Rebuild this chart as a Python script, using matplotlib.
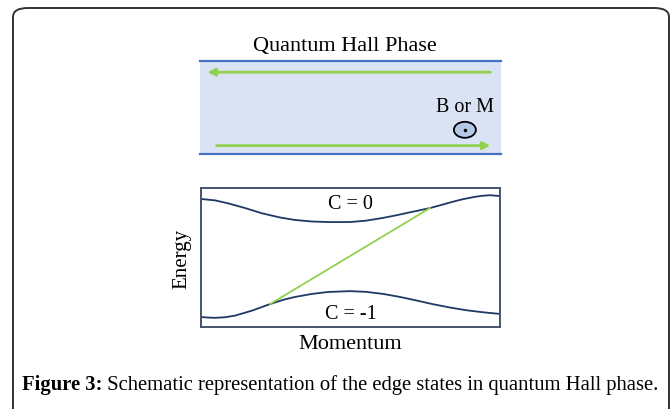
import matplotlib
matplotlib.use("Agg")
import matplotlib.pyplot as plt
from matplotlib.patches import FancyBboxPatch, Ellipse

W, H = 671, 410

# band dispersions (momentum and energy in box units, 0..1)
upper_k = [0.000, 0.047, 0.090, 0.147, 0.204, 0.264, 0.314, 0.371, 0.425, 0.498,
           0.552, 0.609, 0.656, 0.699, 0.732, 0.766, 0.799, 0.833, 0.873, 0.910,
           0.940, 0.967, 1.000]
upper_e = [0.921, 0.911, 0.890, 0.856, 0.818, 0.788, 0.770, 0.759, 0.755, 0.755,
           0.765, 0.785, 0.805, 0.825, 0.840, 0.856, 0.875, 0.896, 0.918, 0.934,
           0.944, 0.948, 0.942]
lower_k = [0.000, 0.023, 0.047, 0.080, 0.114, 0.171, 0.231, 0.274, 0.314, 0.371,
           0.425, 0.498, 0.552, 0.609, 0.666, 0.722, 0.776, 0.833, 0.886, 0.943,
           1.000]
lower_e = [0.072, 0.068, 0.066, 0.070, 0.082, 0.118, 0.165, 0.195, 0.216, 0.238,
           0.252, 0.258, 0.253, 0.238, 0.216, 0.190, 0.164, 0.140, 0.121, 0.106,
           0.094]
# chiral edge state crossing the gap
edge_k = [0.231, 0.766]
edge_e = [0.165, 0.856]

band_labels = ["C = 0", "C = -1"]
caption_bold = "Figure 3:"
caption_text = " Schematic representation of the edge states in quantum Hall phase."

serif = "Liberation Serif"
green = "#92d050"
navy = "#1f3864"


def px_axes(fig, x0, y0, x1, y1):
    # axes placed by pixel box (top-left origin)
    return fig.add_axes([x0 / W, (H - y1) / H, (x1 - x0) / W, (y1 - y0) / H])


fig = plt.figure(figsize=(W / 100, H / 100), dpi=100)
fig.patch.set_facecolor("white")

# rounded outer frame
frame = FancyBboxPatch((13 / W, -12 / H), 656 / W, 413 / H,
                       boxstyle="round,pad=0,rounding_size=0.022",
                       transform=fig.transFigure, fill=False,
                       edgecolor="#333333", linewidth=1.4)
fig.patches.append(frame)

# ---- quantum Hall strip ----
ax1 = px_axes(fig, 200, 62, 501, 155)
ax1.set_xlim(0, 1)
ax1.set_ylim(0, 1)
ax1.axis("off")
ax1.axhspan(0, 1, color="#dae3f3", zorder=0)
ax1.axhline(1, color="#4472c4", lw=1.6, clip_on=False)
ax1.axhline(0, color="#4472c4", lw=1.6, clip_on=False)
ax1.annotate("", xy=(0.025, 0.88), xytext=(0.965, 0.88),
             arrowprops=dict(arrowstyle="-|>", color=green, lw=2,
                             mutation_scale=11, shrinkA=0, shrinkB=0))
ax1.annotate("", xy=(0.965, 0.09), xytext=(0.055, 0.09),
             arrowprops=dict(arrowstyle="-|>", color=green, lw=2,
                             mutation_scale=11, shrinkA=0, shrinkB=0))
ax1.text(0.88, 0.41, "B or M", family=serif, fontsize=14.5,
         ha="center", va="bottom")
ax1.add_patch(Ellipse((0.88, 0.26), 22 / 301, 16 / 93, facecolor="#b4c7e7",
                      edgecolor="black", lw=1.3))
ax1.plot([0.88], [0.26], marker="o", ms=1.5, color="black")

fig.text(345 / W, 1 - 46 / H, "Quantum Hall Phase", family=serif,
         fontsize=16, ha="center", va="center")

# ---- band structure ----
ax2 = px_axes(fig, 201, 189, 500, 328)
ax2.set_xlim(0, 1)
ax2.set_ylim(0, 1)
ax2.set_xticks([])
ax2.set_yticks([])
for s in ax2.spines.values():
    s.set_color("#44546a")
    s.set_linewidth(1.4)
ax2.plot(upper_k, upper_e, color=navy, lw=1.3)
ax2.plot(lower_k, lower_e, color=navy, lw=1.3)
ax2.plot(edge_k, edge_e, color=green, lw=1.3)
ax2.text(0.5, 0.885, band_labels[0], family=serif, fontsize=14.5,
         ha="center", va="center")
ax2.text(0.5, 0.095, band_labels[1], family=serif, fontsize=14.5,
         ha="center", va="center")
ax2.set_xlabel("Momentum", family=serif, fontsize=16, labelpad=5)
ax2.set_ylabel("Energy", family=serif, fontsize=15, labelpad=7)

# caption
t = fig.text(22 / W, 1 - 385 / H, caption_bold, family=serif, fontsize=14.9,
             weight="bold", ha="left", va="center")
fig.canvas.draw()
bb = t.get_window_extent()
fig.text(bb.x1 / W, 1 - 385 / H, caption_text, family=serif, fontsize=14.9,
         ha="left", va="center")

fig.savefig("out.png", dpi=100)
